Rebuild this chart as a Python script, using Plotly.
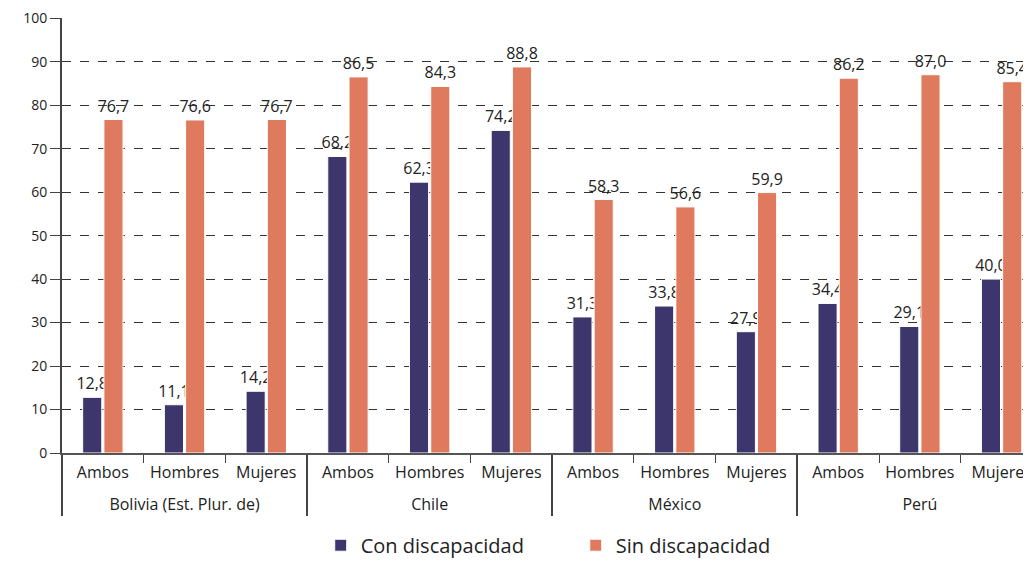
import plotly.graph_objects as go

countries = ["Bolivia (Est. Plur. de)", "Chile", "México", "Perú"]
sexes = ["Ambos", "Hombres", "Mujeres"]
con_discapacidad = [12.8, 11.1, 14.2, 68.2, 62.3, 74.2, 31.3, 33.8, 27.9, 34.4, 29.1, 40.0]
sin_discapacidad = [76.7, 76.6, 76.7, 86.5, 84.3, 88.8, 58.3, 56.6, 59.9, 86.2, 87.0, 85.4]
y_ticks = [0, 10, 20, 30, 40, 50, 60, 70, 80, 90, 100]

LBL = "<span style='font-size:16px'>{}</span>"
# blank extra lines make the first label row taller, pushing the country row down
inner_labels = [LBL.format(s) + "<br><br><span style='font-size:20px'> </span>" for s in sexes]
outer_labels = [LBL.format(c) for c in countries]
x_outer = [c for c in outer_labels for _ in sexes]
x_inner = [s for _ in countries for s in inner_labels]

FONT = "Open Sans"
NAVY = "#3C366D"
ORANGE = "#E07A5F"

common_text = dict(texttemplate="%{y:.1f}", textposition="outside", cliponaxis=False,
                   constraintext="none",
                   textfont=dict(family=FONT, size=16, color="#222222"))

fig = go.Figure()
fig.add_trace(go.Bar(
    x=[x_outer, x_inner], y=con_discapacidad, name="Con discapacidad",
    marker=dict(color=NAVY, line=dict(color="white", width=1)), **common_text,
))
fig.add_trace(go.Bar(
    x=[x_outer, x_inner], y=sin_discapacidad, name="Sin discapacidad",
    marker=dict(color=ORANGE, line=dict(color="white", width=1)), **common_text,
))

fig.update_layout(
    width=1023, height=553,
    margin=dict(l=54, r=0, t=10, b=108, autoexpand=False),
    paper_bgcolor="white", plot_bgcolor="white",
    separators=",.",
    barmode="group", bargap=0.48, bargroupgap=0.1,
    font=dict(family=FONT, size=16, color="#222222"),
    legend=dict(orientation="h", x=0.267, xanchor="left", y=-0.212, yanchor="middle",
                font=dict(family=FONT, size=20, color="#222222"), itemwidth=30,
                entrywidth=210, traceorder="normal"),
    yaxis=dict(range=[0, 100.05], tickvals=y_ticks, showgrid=True, automargin=False,
               gridcolor="#333333", griddash="dash", gridwidth=1,
               showline=True, linecolor="#444444", linewidth=2,
               ticks="outside", ticklen=10, tickcolor="#444444",
               tickfont=dict(family=FONT, size=14, color="#222222"),
               zeroline=False),
    xaxis=dict(type="multicategory", range=[-0.5, 11.36], automargin=False,
               showline=True, linecolor="#555555", linewidth=2,
               ticks="outside", ticklen=8, tickcolor="#444444",
               ticklabelstandoff=13,
               showdividers=True, dividercolor="#444444", dividerwidth=1.5,
               tickfont=dict(family=FONT, size=8, color="#222222")),
)

fig.write_html("out.html")
